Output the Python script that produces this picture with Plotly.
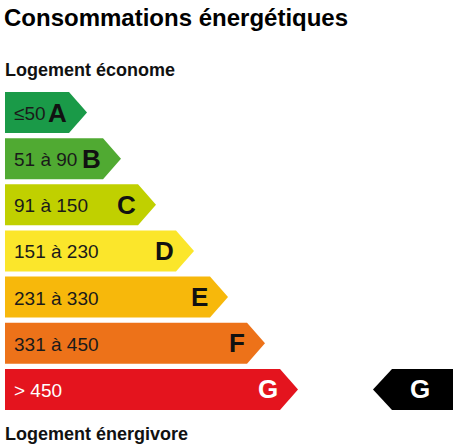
import plotly.graph_objects as go

# ---- data ----
classes = ["A", "B", "C", "D", "E", "F", "G"]
ranges = ["≤50", "51 à 90", "91 à 150", "151 à 230", "231 à 330", "331 à 450", "> 450"]
arrow_length = [82, 116, 151, 189, 223, 260, 293]   # tip position (axis units)
current_class = "G"

title = "Consommations énergétiques"
top_label = "Logement économe"
bottom_label = "Logement énergivore"

# ---- style ----
colors = ["#1a9a48", "#50aa32", "#c0d000", "#fbe62b", "#f7b80b", "#ed7219", "#e4141e"]
range_colors = ["#1a1a1a"] * 6 + ["#ffffff"]
W, H = 456, 448
x0 = 5          # left edge of bars
tip = 18        # arrow tip width
bar_h = 41
row0 = 112.5
pitch = 46.15
font = "Liberation Sans, Arial, sans-serif"

fig = go.Figure()

for i, (c, r, L, col) in enumerate(zip(classes, ranges, arrow_length, colors)):
    yc = row0 + i * pitch
    top, bot = yc - bar_h / 2, yc + bar_h / 2
    xe = x0 + L
    xb = xe - tip
    fig.add_trace(go.Scatter(
        x=[x0, xb, xe, xb, x0, x0], y=[top, top, yc, bot, bot, top],
        fill="toself", fillcolor=col, mode="lines", line=dict(width=0),
        hoverinfo="skip", showlegend=False))
    fig.add_annotation(x=x0 + 7, y=yc + 1, text=r, showarrow=False, xanchor="left",
                       yanchor="middle", font=dict(family=font, size=19, color=range_colors[i]))
    fig.add_annotation(x=xb, y=yc, text="<b>%s</b>" % c, showarrow=False, xanchor="right",
                       yanchor="middle",
                       font=dict(family=font, size=26,
                                 color="#ffffff" if c == "G" else "#111111"))

# current-class indicator (black arrow)
ci = classes.index(current_class)
yc = row0 + ci * pitch
top, bot = yc - bar_h / 2, yc + bar_h / 2
bx_right, bx_left = 453, 392
fig.add_trace(go.Scatter(
    x=[bx_right, bx_left, bx_left - 19, bx_left, bx_right, bx_right],
    y=[top, top, yc, bot, bot, top],
    fill="toself", fillcolor="#000000", mode="lines", line=dict(width=0),
    hoverinfo="skip", showlegend=False))
fig.add_annotation(x=(bx_left + bx_right) / 2 - 3, y=yc, text="<b>%s</b>" % current_class,
                   showarrow=False, xanchor="center", yanchor="middle",
                   font=dict(family=font, size=26, color="#ffffff"))

# headings
fig.add_annotation(x=2, y=17, text="<b>%s</b>" % title, showarrow=False, xanchor="left",
                   yanchor="middle", font=dict(family=font, size=24, color="#000000"))
fig.add_annotation(x=3, y=70, text="<b>%s</b>" % top_label, showarrow=False, xanchor="left",
                   yanchor="middle", font=dict(family=font, size=18, color="#111111"))
fig.add_annotation(x=3, y=434, text="<b>%s</b>" % bottom_label, showarrow=False, xanchor="left",
                   yanchor="middle", font=dict(family=font, size=18, color="#111111"))

fig.update_layout(
    width=W, height=H, margin=dict(l=0, r=0, t=0, b=0),
    paper_bgcolor="#ffffff", plot_bgcolor="#ffffff",
    xaxis=dict(range=[0, W], visible=False, fixedrange=True),
    yaxis=dict(range=[H, 0], visible=False, fixedrange=True),
)

fig.write_html("out.html")
